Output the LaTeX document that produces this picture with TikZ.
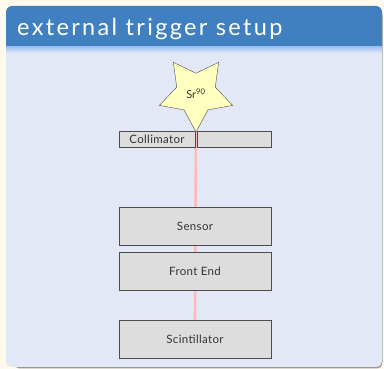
\documentclass[tikz,border=0pt]{standalone}
\usepackage{fontspec}
\setmainfont{Lato}
\usetikzlibrary{shapes.geometric,backgrounds}

\definecolor{cream}{RGB}{255,250,235}
\definecolor{titleblue}{RGB}{64,128,193}
\definecolor{stripblue}{RGB}{160,195,240}
\definecolor{bodyblue}{RGB}{226,232,245}
\definecolor{boxgray}{RGB}{221,221,221}
\definecolor{beampink}{RGB}{255,185,185}
\definecolor{staryellow}{RGB}{255,255,192}

\begin{document}
\begin{tikzpicture}[x=1pt,y=-1pt,
    part/.style={draw=black!70,fill=boxgray,text=black!80,inner sep=0pt,
      font=\addfontfeature{LetterSpace=3}\fontsize{11.5}{13}\selectfont},
    detector/.style={part,minimum width=152pt,minimum height=38pt},
    slit/.style={part,minimum height=16pt},
    beam/.style={draw=beampink,line width=2.6pt}]
\useasboundingbox (0,0) rectangle (384,369);

\node[detector] (sensor) at (195,226) {Sensor};
\node[detector] (frontend) at (195,271) {Front End};
\node[detector] (scint) at (195,339) {Scintillator};
\node[slit,minimum width=76pt] (collim) at (157,139) {Collimator};
\node[slit,minimum width=74pt] (collimR) at (234,139) {};
\node[star,star points=5,star point ratio=1.9,shape border rotate=180,
  minimum size=77pt,inner sep=0pt,draw=black!70,fill=staryellow,
  text=black!80,font=\fontsize{11}{12}\selectfont] (sr) at (196,93.5) {Sr$^{\mathrm{90}}$};

\begin{scope}[on background layer]
  \fill[cream] (0,0) rectangle (384,369);
  \fill[black!40,rounded corners=6pt] (14,10) rectangle (382.5,368.5);
  \fill[titleblue] (6,47) {[rounded corners=6pt] -- (6,6) -- (382,6)} -- (382,47) -- cycle;
  \fill[bodyblue] (6,47) -- (382,47) {[rounded corners=6pt] -- (382,367) -- (6,367)} -- cycle;
  \shade[top color=stripblue,bottom color=bodyblue] (6,47) rectangle (382,53);
  \node[anchor=base west,text=white,inner sep=0pt,
    font=\addfontfeature{LetterSpace=10}\fontsize{23.5}{26}\selectfont]
    (title) at (17,36) {external trigger setup};
  \draw[beam] (sr.south) -- (scint.north);
\end{scope}
\end{tikzpicture}
\end{document}
